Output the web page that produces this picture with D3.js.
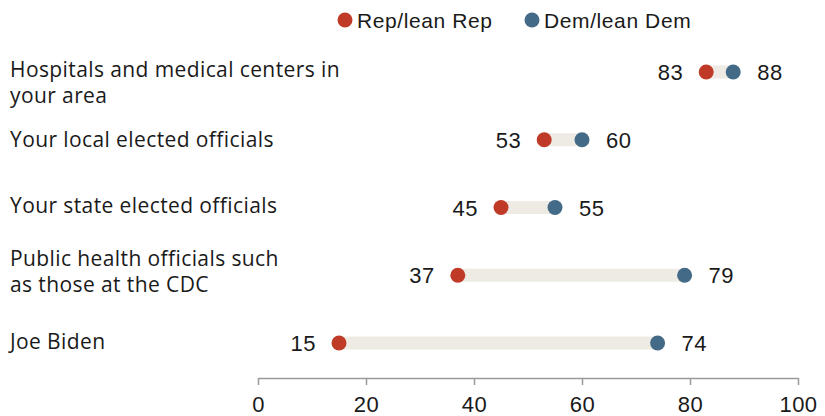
<!DOCTYPE html>
<html>
<head>
<meta charset="utf-8">
<script src="https://cdn.jsdelivr.net/npm/d3@7"></script>
<style>
  html, body { margin: 0; padding: 0; background: #fff; }
  svg { display: block; }
  text { font-family: "Liberation Sans", Arial, sans-serif; fill: #1a1a1a; }
  .cat { font-family: "Open Sans", "Liberation Sans", sans-serif; }
</style>
</head>
<body>
<svg id="chart" width="825" height="416"></svg>
<script>
// ---- data ----
const categories = [
  ["Hospitals and medical centers in", "your area"],
  ["Your local elected officials"],
  ["Your state elected officials"],
  ["Public health officials such", "as those at the CDC"],
  ["Joe Biden"]
];
const repValues = [83, 53, 45, 37, 15];
const demValues = [88, 60, 55, 79, 74];
const seriesNames = ["Rep/lean Rep", "Dem/lean Dem"];
const tickValues = [0, 20, 40, 60, 80, 100];

// ---- layout ----
const colors = { rep: "#bf3b27", dem: "#436a86", bar: "#eeebe4", axis: "#9a9a9a" };
const labelFirstBaseline = [5, 7, 5, -9, 6]; // offset of first label line from row centre

const svg = d3.select("#chart");
const x = d3.scaleLinear().domain([0, 100]).range([258, 798]);
const y = d3.scalePoint().domain(d3.range(categories.length)).range([72, 343]);

// rows
const rows = svg.append("g").selectAll("g").data(categories).join("g")
  .attr("transform", (d, i) => `translate(0,${y(i)})`);

rows.append("rect")
  .attr("x", (d, i) => x(Math.min(repValues[i], demValues[i])))
  .attr("width", (d, i) => Math.abs(x(demValues[i]) - x(repValues[i])))
  .attr("y", -6.5).attr("height", 13)
  .attr("fill", colors.bar);

rows.append("circle")
  .attr("cx", (d, i) => x(repValues[i])).attr("cy", 0).attr("r", 7.5)
  .attr("fill", colors.rep);
rows.append("circle")
  .attr("cx", (d, i) => x(demValues[i])).attr("cy", 0).attr("r", 7.5)
  .attr("fill", colors.dem);

rows.append("text")
  .attr("x", (d, i) => x(repValues[i]) - 23).attr("y", 8)
  .attr("text-anchor", "end").attr("font-size", 22).attr("letter-spacing", 0.5)
  .text((d, i) => repValues[i]);
rows.append("text")
  .attr("x", (d, i) => x(demValues[i]) + 24).attr("y", 8)
  .attr("text-anchor", "start").attr("font-size", 22).attr("letter-spacing", 0.5)
  .text((d, i) => demValues[i]);

// category labels
rows.append("text")
  .attr("class", "cat")
  .attr("x", 10)
  .attr("font-size", 21)
  .attr("letter-spacing", 0.4)
  .each(function(d, i) {
    d3.select(this).selectAll("tspan").data(d).join("tspan")
      .attr("x", 10)
      .attr("y", (t, j) => labelFirstBaseline[i] + j * 26)
      .text(t => t);
  });

// axis
const axis = svg.append("g").attr("transform", "translate(0,378)")
  .call(d3.axisBottom(x).tickValues(tickValues).tickSize(7).tickPadding(11).tickSizeOuter(0));
axis.select(".domain").attr("stroke", colors.axis).attr("stroke-width", 1.5);
axis.selectAll(".tick line").attr("stroke", colors.axis).attr("stroke-width", 1.5);
axis.selectAll(".tick text").attr("font-size", 22).attr("letter-spacing", 0.5).attr("fill", "#1a1a1a")
  .attr("font-family", "Liberation Sans, Arial, sans-serif");

// legend
const legend = svg.append("g").attr("transform", "translate(0,20)");
const legendX = [345, 532];
const legendColors = [colors.rep, colors.dem];
const lg = legend.selectAll("g").data(seriesNames).join("g")
  .attr("transform", (d, i) => `translate(${legendX[i]},0)`);
lg.append("circle").attr("r", 7.5).attr("fill", (d, i) => legendColors[i]);
lg.append("text").attr("x", 12).attr("y", 8).attr("font-size", 21).attr("letter-spacing", 0.6).text(d => d);
</script>
</body>
</html>
